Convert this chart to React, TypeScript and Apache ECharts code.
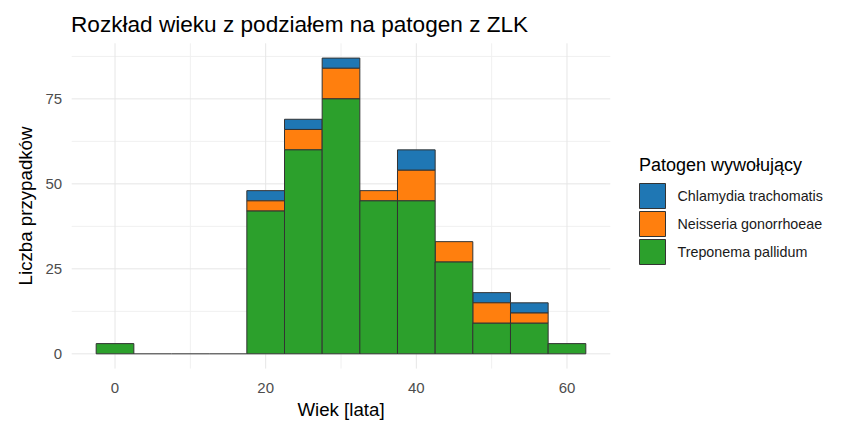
import React, { useEffect, useRef } from "react";
import * as echarts from "echarts";

const bins = [0, 5, 10, 15, 20, 25, 30, 35, 40, 45, 50, 55, 60];
const treponema = [3, 0, 0, 0, 42, 60, 75, 45, 45, 27, 9, 9, 3];
const neisseria = [0, 0, 0, 0, 3, 6, 9, 3, 9, 6, 6, 3, 0];
const chlamydia = [0, 0, 0, 0, 3, 3, 3, 0, 6, 0, 3, 3, 0];
const binWidth = 5;

const xTickLabels = [0, 20, 40, 60];
const yTickLabels = [0, 25, 50, 75];
const xMajor = [0, 20, 40, 60];
const xMinor = [10, 30, 50];
const yMajor = [0, 25, 50, 75];
const yMinor = [12.5, 37.5, 62.5, 87.5];

const names = ["Chlamydia trachomatis", "Neisseria gonorrhoeae", "Treponema pallidum"];
const colors = ["#1f77b4", "#ff7f0e", "#2ca02c"];

const FONT = "'Liberation Sans', Arial, sans-serif";

export default function App() {
  const ref = useRef<HTMLDivElement>(null);
  useEffect(() => {
    if (!ref.current) return;
    const chart = echarts.init(ref.current, null, { renderer: "svg" });

    const totals = bins.map((_, i) => treponema[i] + neisseria[i] + chlamydia[i]);
    const xLo = bins[0] - binWidth / 2;
    const xHi = bins[bins.length - 1] + binWidth / 2;
    const xPad = (xHi - xLo) * 0.05;
    const yTop = Math.max(...totals);
    const yPad = yTop * 0.05;

    const stackData = (vals: number[], baseArrs: number[][]) =>
      bins.map((b, i) => {
        const base = baseArrs.reduce((s, a) => s + a[i], 0);
        return [b, base, vals[i]];
      });

    const barSeries = (name: string, color: string, data: number[][], drawZero: boolean) => ({
      type: "custom",
      name,
      itemStyle: { color },
      z: 5,
      data,
      encode: { x: 0, y: 1 },
      renderItem: (params: any, api: any) => {
        const c = api.value(0);
        const base = api.value(1);
        const v = api.value(2);
        const p0 = api.coord([c - binWidth / 2, base]);
        const p1 = api.coord([c + binWidth / 2, base + v]);
        if (v === 0) {
          if (!drawZero) return null;
          return {
            type: "line",
            shape: { x1: p0[0], y1: p0[1], x2: p1[0], y2: p0[1] },
            style: { stroke: "#333333", lineWidth: 1 },
          };
        }
        return {
          type: "rect",
          shape: { x: p0[0], y: p1[1], width: p1[0] - p0[0], height: p0[1] - p1[1] },
          style: { fill: color, stroke: "#333333", lineWidth: 1 },
        };
      },
    });

    const gridSeries = (vals: number[], vertical: boolean, color: string, width: number) => ({
      type: "custom",
      silent: true,
      z: 1,
      data: vals.map((v) => (vertical ? [v, 0] : [0, v])),
      encode: { x: 0, y: 1 },
      renderItem: (params: any, api: any) => {
        const cs = params.coordSys;
        if (vertical) {
          const x = api.coord([api.value(0), 0])[0];
          return {
            type: "line",
            shape: { x1: x, y1: cs.y, x2: x, y2: cs.y + cs.height },
            style: { stroke: color, lineWidth: width },
          };
        }
        const y = api.coord([0, api.value(1)])[1];
        return {
          type: "line",
          shape: { x1: cs.x, y1: y, x2: cs.x + cs.width, y2: y },
          style: { stroke: color, lineWidth: width },
        };
      },
    });

    chart.setOption({
      animation: false,
      backgroundColor: "#ffffff",
      textStyle: { fontFamily: FONT },
      title: {
        text: "Rozkład wieku z podziałem na patogen z ZLK",
        left: 71,
        top: 13,
        padding: 0,
        textStyle: { fontFamily: FONT, fontSize: 22.6, fontWeight: "normal", color: "#000000" },
      },
      grid: { left: 71.7, right: 239.7, top: 43.3, bottom: 48.9, containLabel: false },
      xAxis: {
        type: "value",
        min: xLo - xPad,
        max: xHi + xPad,
        name: "Wiek [lata]",
        nameLocation: "middle",
        nameGap: 27.5,
        nameTextStyle: { fontFamily: FONT, fontSize: 18.7, color: "#000000" },
        axisLine: { show: false },
        axisTick: { show: false },
        splitLine: { show: false },
        axisLabel: {
          customValues: xTickLabels,
          margin: 11.5,
          fontFamily: FONT,
          fontSize: 15,
          color: "#4d4d4d",
        },
      },
      yAxis: {
        type: "value",
        min: -yPad,
        max: yTop + yPad,
        name: "Liczba przypadków",
        nameLocation: "middle",
        nameGap: 34,
        nameTextStyle: { fontFamily: FONT, fontSize: 18.7, color: "#000000" },
        axisLine: { show: false },
        axisTick: { show: false },
        splitLine: { show: false },
        axisLabel: {
          customValues: yTickLabels,
          margin: 9.5,
          fontFamily: FONT,
          fontSize: 15,
          color: "#4d4d4d",
        },
      },
      legend: {
        data: names.map((n) => ({ name: n, icon: "rect" })),
        orient: "vertical",
        left: 639,
        top: 183,
        padding: 0,
        itemWidth: 26,
        itemHeight: 25,
        itemGap: 2,
        itemStyle: { borderColor: "#333333", borderWidth: 1 },
        selectedMode: false,
        textStyle: { fontFamily: FONT, fontSize: 14.3, color: "#1a1a1a", padding: [0, 0, 0, 7] },
      },
      graphic: [
        {
          type: "text",
          left: 639,
          top: 156,
          style: { text: "Patogen wywołujący", fontFamily: FONT, fontSize: 18, fill: "#000000" },
        },
      ],
      series: [
        gridSeries(xMinor, true, "#f0f0f0", 1),
        gridSeries(yMinor, false, "#f0f0f0", 1),
        gridSeries(xMajor, true, "#e6e6e6", 1),
        gridSeries(yMajor, false, "#e6e6e6", 1),
        barSeries(names[0], colors[0], stackData(chlamydia, [treponema, neisseria]), false),
        barSeries(names[1], colors[1], stackData(neisseria, [treponema]), false),
        barSeries(names[2], colors[2], stackData(treponema, []), true),
      ],
    });
    return () => chart.dispose();
  }, []);
  return (
    <div
      ref={ref}
      style={{ position: "fixed", left: 0, top: 0, width: 850, height: 424 }}
    />
  );
}
